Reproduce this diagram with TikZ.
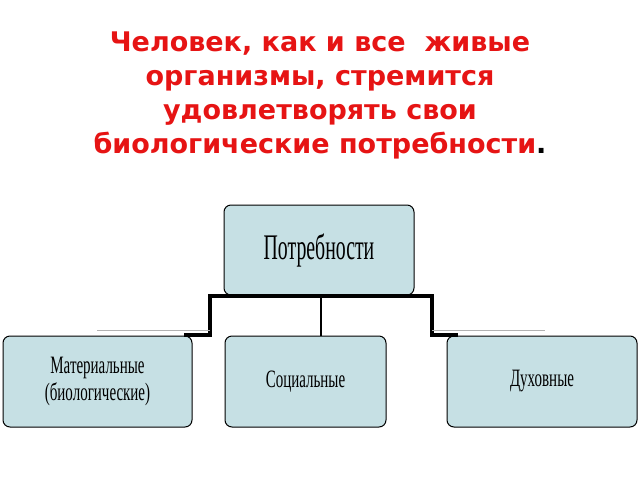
\documentclass[tikz,border=0pt]{standalone}
\usepackage{fontspec}
\setmainfont{Liberation Serif}
\newfontfamily\titlefont{DejaVu Sans}
\usetikzlibrary{positioning}
\definecolor{boxfill}{RGB}{198,224,228}
\definecolor{titlered}{RGB}{230,20,20}
\tikzstyle{need}=[draw=black,line width=1pt,fill=boxfill,rounded corners=7pt,align=center]
\tikzstyle{link}=[line width=3.5pt,line cap=rect]
\begin{document}
\begin{tikzpicture}[x=1pt,y=-1pt]
  \useasboundingbox (0,0) rectangle (640,480);
  % title
  \node[titlered,align=center,font=\titlefont\bfseries\fontsize{27}{34}\selectfont] (title) at (320,95)
    {Человек, как и все \ живые\\организмы, стремится\\удовлетворять свои\\биологические потребности\textcolor{black}{.}};
  % boxes
  \node[need,minimum width=190pt,minimum height=90pt,font=\fontsize{36}{38}\selectfont] (top) at (319,250)
    {\scalebox{0.55}[1]{Потребности}};
  \node[need,minimum width=189pt,minimum height=91pt,font=\fontsize{25}{27}\selectfont] (mat) at (97.5,381.5)
    {\scalebox{0.6}[1]{Материальные}\\\scalebox{0.6}[1]{(биологические)}};
  \node[need,minimum width=161pt,minimum height=91pt,font=\fontsize{25}{27}\selectfont] (soc) at (305.5,381.5)
    {\scalebox{0.6}[1]{Социальные}};
  \node[need,minimum width=190pt,minimum height=91pt,font=\fontsize{25}{27}\selectfont] (spi) at (542,381.5)
    {\scalebox{0.6}[1]{Духовные}};
  % connectors
  \coordinate (hl) at (210,296);
  \coordinate (hr) at (432,296);
  \draw[link] (hl) -- (hr);
  \draw[link] (hl) -- (210,335) -- (186,335);
  \draw[link] (hr) -- (432,335) -- (456,335);
  \draw[line width=1.5pt] (321,296) -- (321,336);
  \draw[gray!60,line width=1pt] (97,330) -- (210,330);
  \draw[gray!60,line width=1pt] (432,330) -- (545,330);
\end{tikzpicture}
\end{document}
